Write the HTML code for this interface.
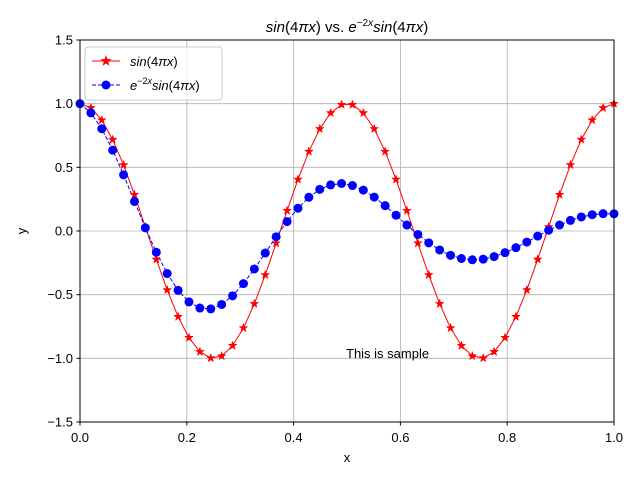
<!DOCTYPE html>
<html><head><meta charset="utf-8"><style>
body{margin:0;background:#fff;}
svg text{font-family:"Liberation Sans","DejaVu Sans",sans-serif;}
</style></head><body>
<svg id="chart" width="640" height="480" xmlns="http://www.w3.org/2000/svg">
<rect width="640" height="480" fill="#fff"/>
<g id="grid"></g>
<g id="series"></g>
<rect x="80" y="40" width="534" height="382" fill="none" stroke="#000" stroke-width="1"/>
<g id="ticks"></g>
<text x="347" y="32" font-size="15" text-anchor="middle"><tspan font-style="italic">sin</tspan>(4<tspan font-style="italic">πx</tspan>) vs. <tspan font-style="italic">e</tspan><tspan font-size="10" dy="-6">−2<tspan font-style="italic">x</tspan></tspan><tspan dy="6" font-style="italic">sin</tspan>(4<tspan font-style="italic">πx</tspan>)</text>
<text x="347" y="462" font-size="13" text-anchor="middle">x</text>
<text x="26" y="231" font-size="13" text-anchor="middle" transform="rotate(-90 26 231)">y</text>
<text x="346" y="358" font-size="13">This is sample</text>
<g>
<rect x="85" y="47" width="137" height="53" rx="3" fill="#fff" fill-opacity="0.8" stroke="#ccc"/>
<line x1="92" y1="61" x2="120" y2="61" stroke="red" stroke-width="1"/>
<polygon id="legstar" fill="red" stroke="red" points=""/>
<text x="130" y="66" font-size="13"><tspan font-style="italic">sin</tspan>(4<tspan font-style="italic">πx</tspan>)</text>
<line x1="92" y1="85" x2="120" y2="85" stroke="blue" stroke-width="1" stroke-dasharray="4,2"/>
<circle cx="106" cy="85" r="4.5" fill="blue"/>
<text x="130" y="90" font-size="13"><tspan font-style="italic">e</tspan><tspan font-size="9" dy="-6">−2<tspan font-style="italic">x</tspan></tspan><tspan dy="6" font-style="italic">sin</tspan>(4<tspan font-style="italic">πx</tspan>)</text>
</g>
</svg>
<script>
const xTicks=[0,0.2,0.4,0.6,0.8,1.0];
const xTickLabels=["0.0","0.2","0.4","0.6","0.8","1.0"];
const yTicks=[-1.5,-1.0,-0.5,0.0,0.5,1.0,1.5];
const yTickLabels=["−1.5","−1.0","−0.5","0.0","0.5","1.0","1.5"];
const xValues=[0,0.0204,0.0408,0.0612,0.0816,0.102,0.1224,0.1429,0.1633,0.1837,0.2041,0.2245,0.2449,0.2653,0.2857,0.3061,0.3265,0.3469,0.3673,0.3878,0.4082,0.4286,0.449,0.4694,0.4898,0.5102,0.5306,0.551,0.5714,0.5918,0.6122,0.6327,0.6531,0.6735,0.6939,0.7143,0.7347,0.7551,0.7755,0.7959,0.8163,0.8367,0.8571,0.8776,0.898,0.9184,0.9388,0.9592,0.9796,1];
const sinValues=[1,0.967,0.871,0.718,0.519,0.285,0.032,-0.223,-0.463,-0.673,-0.838,-0.949,-0.998,-0.982,-0.901,-0.762,-0.572,-0.345,-0.096,0.16,0.405,0.624,0.802,0.927,0.992,0.992,0.927,0.802,0.624,0.405,0.16,-0.096,-0.345,-0.572,-0.762,-0.901,-0.982,-0.998,-0.949,-0.838,-0.673,-0.463,-0.223,0.032,0.285,0.519,0.718,0.871,0.967,1];
const dampedValues=[1,0.928,0.803,0.635,0.441,0.232,0.025,-0.167,-0.334,-0.466,-0.557,-0.605,-0.612,-0.577,-0.509,-0.413,-0.298,-0.173,-0.046,0.074,0.179,0.265,0.327,0.362,0.373,0.357,0.321,0.266,0.199,0.124,0.047,-0.027,-0.093,-0.149,-0.191,-0.216,-0.226,-0.221,-0.201,-0.17,-0.131,-0.087,-0.04,0.006,0.047,0.083,0.11,0.128,0.136,0.135];
const X0=80,X1=614,Y0=422,Y1=40;
function sx(v){return X0+(v-0)/(1-0)*(X1-X0);}
function sy(v){return Y0-(v+1.5)/3*(Y0-Y1);}
const NS="http://www.w3.org/2000/svg";
function mk(tag,attrs,parent){const e=document.createElementNS(NS,tag);for(const k in attrs)e.setAttribute(k,attrs[k]);parent.appendChild(e);return e;}
const grid=document.getElementById('grid'),ticks=document.getElementById('ticks'),series=document.getElementById('series');
xTicks.forEach((t,i)=>{const x=sx(t);
 const g=mk('line',{x1:x,x2:x,y1:Y1,y2:Y0,stroke:'#b0b0b0','stroke-width':0.8},grid);
 
 
 mk('line',{x1:x,x2:x,y1:Y0,y2:Y0+3.5,stroke:'#000'},ticks);
 const tx=mk('text',{x:x,y:Y0+20,'font-size':13,'text-anchor':'middle'},ticks);tx.textContent=xTickLabels[i];
 
 });
yTicks.forEach((t,i)=>{const y=sy(t);
 const g=mk('line',{x1:X0,x2:X1,y1:y,y2:y,stroke:'#b0b0b0','stroke-width':0.8},grid);
 
 
 mk('line',{x1:X0-3.5,x2:X0,y1:y,y2:y,stroke:'#000'},ticks);
 const tx=mk('text',{x:X0-7,y:y+4.5,'font-size':13,'text-anchor':'end'},ticks);tx.textContent=yTickLabels[i];
 
 });
function star(cx,cy,R){const r=R*0.4;let p=[];for(let k=0;k<10;k++){const a=-Math.PI/2+k*Math.PI/5;const rr=k%2?r:R;p.push((cx+rr*Math.cos(a)).toFixed(1)+','+(cy+rr*Math.sin(a)).toFixed(1));}return p.join(' ');}
document.getElementById('legstar').setAttribute('points',star(106,61,4.5));
const rl=mk('polyline',{points:xValues.map((x,i)=>sx(x)+','+sy(sinValues[i])).join(' '),fill:'none',stroke:'red','stroke-width':1},series);


const bl=mk('polyline',{points:xValues.map((x,i)=>sx(x)+','+sy(dampedValues[i])).join(' '),fill:'none',stroke:'blue','stroke-width':1,'stroke-dasharray':'4,2'},series);


xValues.forEach((x,i)=>{
 const s=mk('polygon',{points:star(sx(x),sy(sinValues[i]),4.5),fill:'red',stroke:'red','stroke-width':0.5},series);
 
 
 const c=mk('circle',{cx:sx(x),cy:sy(dampedValues[i]),r:4.5,fill:'blue'},series);
 
 
});
</script>
</body></html>
